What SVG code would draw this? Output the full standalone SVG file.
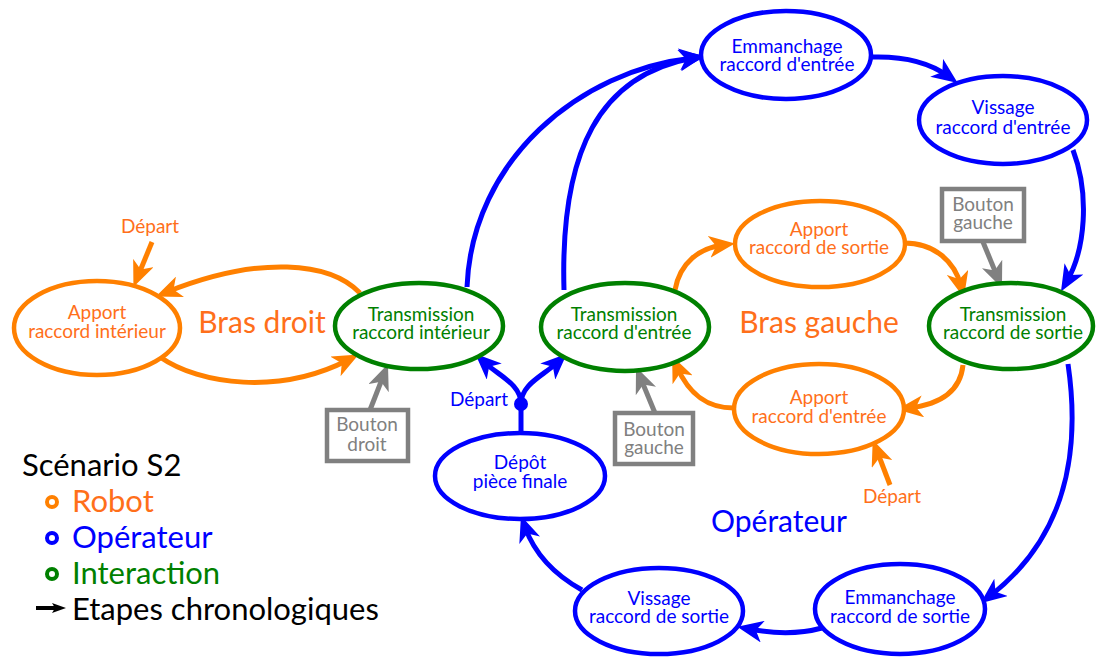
<svg xmlns="http://www.w3.org/2000/svg" width="1096" height="657" viewBox="0 0 1096 657">
<style>
text{font-family:Lato,"Liberation Sans",sans-serif;text-anchor:middle}
.n{font-size:19px}
.big{font-size:30px}
.lg{font-size:31px;text-anchor:start}
.or{fill:#FF6F1A}.bl{fill:#0000FF}.gr{fill:#008000}.gy{fill:#808080}.bk{fill:#000}
ellipse{fill:#fff;stroke-width:4.5}
.eo{stroke:#FF8000}.eb{stroke:#0000FF}.eg{stroke:#008000}
.c{fill:none;stroke-width:5}
.co{stroke:#FF8000;marker-end:url(#ao)}
.cb{stroke:#0000FF;marker-end:url(#ab)}
.cg{stroke:#808080;marker-end:url(#ag)}
.box{fill:#fff;stroke:#808080;stroke-width:4.5}
</style>
<defs>
<marker id="ao" markerUnits="userSpaceOnUse" viewBox="0 0 26 22" markerWidth="26" markerHeight="22" refX="14" refY="11" orient="auto"><path d="M0,0 L26,11 L0,22 L7,11 Z" fill="#FF8000"/></marker>
<marker id="ab" markerUnits="userSpaceOnUse" viewBox="0 0 26 22" markerWidth="26" markerHeight="22" refX="14" refY="11" orient="auto"><path d="M0,0 L26,11 L0,22 L7,11 Z" fill="#0000FF"/></marker>
<marker id="ag" markerUnits="userSpaceOnUse" viewBox="0 0 26 22" markerWidth="26" markerHeight="22" refX="14" refY="11" orient="auto"><path d="M0,0 L26,11 L0,22 L7,11 Z" fill="#808080"/></marker>
<marker id="ak" markerUnits="userSpaceOnUse" viewBox="0 0 14 10" markerWidth="14" markerHeight="10" refX="4" refY="5" orient="auto"><path d="M0,0 L14,5 L0,10 L3,5 Z" fill="#000"/></marker>
</defs>

<g id="connectors">
<path class="c co" d="M160,357 C200,385 280,395 348,360"/>
<path class="c co" d="M360,293 C330,262 260,255 167,292"/>
<path class="c co" d="M152,242 L138,276"/>
<path class="c co" d="M675,290 C680,262 700,248 723,245"/>
<path class="c co" d="M904,243 C935,243 955,262 961,286"/>
<path class="c co" d="M963,365 C960,395 935,405 909,408"/>
<path class="c co" d="M734,408 C705,408 688,392 677,367"/>
<path class="c co" d="M890,485 L877,451"/>
<path class="c cg" d="M370,410 L383.6,375.2"/>
<path class="c cg" d="M655,413 L640.6,378.1"/>
<path class="c cg" d="M983,242 L997.4,276.9"/>
<path class="c cb" d="M467,287 C472,160 580,70 693,58"/>
<path class="c cb" d="M564,290 C560,150 600,75 693,58"/>
<path class="c cb" d="M872,57 C905,56 930,63 948,76"/>
<path class="c cb" d="M1073,150 C1090,195 1085,250 1067,281"/>
<path class="c cb" d="M1068,364 C1082,460 1062,540 990,596"/>
<path class="c cb" d="M822,628 C800,634 775,634 749,629"/>
<path class="c cb" d="M582,590 C555,575 535,555 525,527"/>
<path class="c" stroke="#0000FF" d="M521,434 L521,404"/>
<path class="c cb" d="M521,404 C521,384 499,376 484,362"/>
<path class="c cb" d="M521,404 C521,384 543,376 558,362"/>
<circle cx="521" cy="404" r="7" fill="#0000FF"/>
</g>

<g id="apport-interieur"><ellipse class="eo" cx="97" cy="328" rx="83" ry="47"/><text class="n or" x="97" y="319">Apport</text><text class="n or" x="97" y="338">raccord intérieur</text></g>
<g id="transmission-interieur"><ellipse class="eg" cx="419" cy="326" rx="84" ry="43"/><text class="n gr" x="421" y="321">Transmission</text><text class="n gr" x="421" y="339">raccord intérieur</text></g>
<g id="transmission-entree"><ellipse class="eg" cx="625" cy="327" rx="84" ry="44"/><text class="n gr" x="624" y="321">Transmission</text><text class="n gr" x="624" y="339">raccord d'entrée</text></g>
<g id="apport-sortie"><ellipse class="eo" cx="820" cy="244" rx="85" ry="43"/><text class="n or" x="819" y="236">Apport</text><text class="n or" x="819" y="254">raccord de sortie</text></g>
<g id="transmission-sortie"><ellipse class="eg" cx="1011" cy="326" rx="82" ry="43"/><text class="n gr" x="1013" y="321">Transmission</text><text class="n gr" x="1013" y="339">raccord de sortie</text></g>
<g id="apport-entree"><ellipse class="eo" cx="819" cy="409" rx="85" ry="45"/><text class="n or" x="819" y="404">Apport</text><text class="n or" x="819" y="423">raccord d'entrée</text></g>
<g id="emmanchage-entree"><ellipse class="eb" cx="786" cy="55" rx="85" ry="44"/><text class="n bl" x="787" y="53">Emmanchage</text><text class="n bl" x="787" y="71">raccord d'entrée</text></g>
<g id="vissage-entree"><ellipse class="eb" cx="1003" cy="120" rx="84" ry="44"/><text class="n bl" x="1003" y="114">Vissage</text><text class="n bl" x="1003" y="134">raccord d'entrée</text></g>
<g id="depot"><ellipse class="eb" cx="520" cy="476" rx="85" ry="43"/><text class="n bl" x="520" y="469">Dépôt</text><text class="n bl" x="520" y="488">pièce finale</text></g>
<g id="vissage-sortie"><ellipse class="eb" cx="659" cy="611" rx="84" ry="43"/><text class="n bl" x="659" y="605">Vissage</text><text class="n bl" x="659" y="623">raccord de sortie</text></g>
<g id="emmanchage-sortie"><ellipse class="eb" cx="900" cy="609" rx="85" ry="45"/><text class="n bl" x="900" y="604">Emmanchage</text><text class="n bl" x="900" y="623">raccord de sortie</text></g>

<g id="bouton-droit"><rect class="box" x="327" y="410" width="81" height="51"/><text class="n gy" x="367" y="431">Bouton</text><text class="n gy" x="367" y="451">droit</text></g>
<g id="bouton-gauche-1"><rect class="box" x="615" y="413" width="78" height="51"/><text class="n gy" x="654" y="436">Bouton</text><text class="n gy" x="654" y="454">gauche</text></g>
<g id="bouton-gauche-2"><rect class="box" x="942" y="189" width="82" height="52"/><text class="n gy" x="983" y="211">Bouton</text><text class="n gy" x="983" y="229">gauche</text></g>

<g id="labels">
<text class="n or" x="150" y="233">Départ</text>
<text class="n bl" x="479" y="406">Départ</text>
<text class="n or" x="892" y="503">Départ</text>
<text class="big or" x="262" y="333">Bras droit</text>
<text class="big or" x="819" y="333">Bras gauche</text>
<text class="big bl" x="779" y="532">Opérateur</text>
</g>

<g id="legend">
<text class="lg bk" x="22" y="476">Scénario S2</text>
<circle cx="52" cy="502" r="5" fill="none" stroke="#FF8000" stroke-width="4"/>
<text class="lg or" x="72" y="512">Robot</text>
<circle cx="52" cy="538" r="5" fill="none" stroke="#0000FF" stroke-width="4"/>
<text class="lg bl" x="72" y="548">Opérateur</text>
<circle cx="52" cy="574" r="5" fill="none" stroke="#008000" stroke-width="4"/>
<text class="lg gr" x="72" y="584">Interaction</text>
<path d="M36,608 L56,608" stroke="#000" stroke-width="4" marker-end="url(#ak)"/>
<text class="lg bk" x="72" y="620">Etapes chronologiques</text>
</g>
</svg>
